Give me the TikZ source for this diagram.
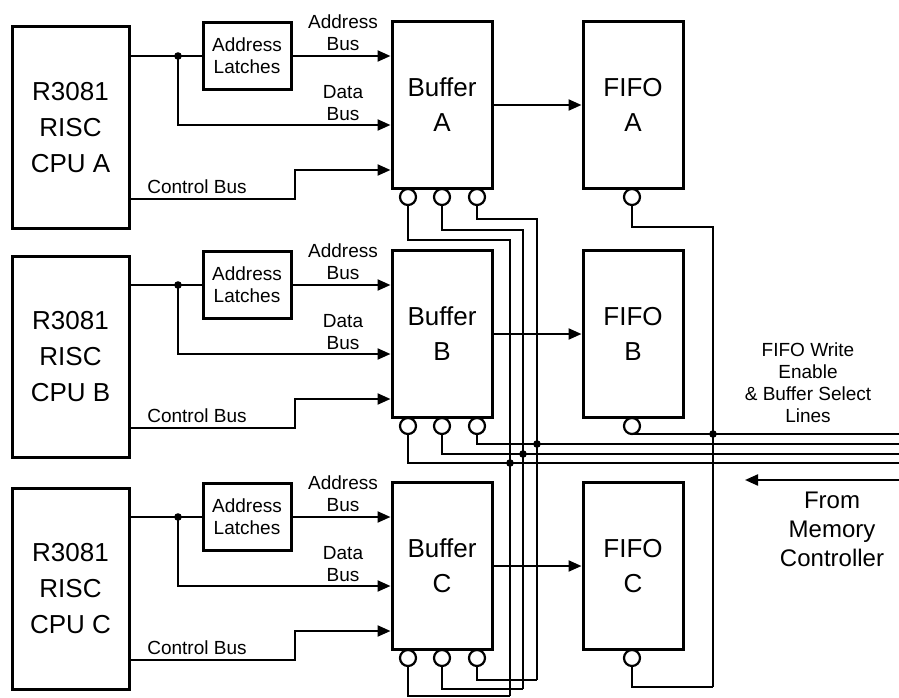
\documentclass[tikz,border=0pt]{standalone}
\usepackage{fontspec}
\setmainfont{Liberation Sans}
\usetikzlibrary{arrows.meta, positioning}
\tikzset{
  unit/.style={rectangle, draw, line width=3pt, align=center, inner sep=0pt},
  cpubox/.style={unit, minimum width=117pt, minimum height=201pt, font=\fontsize{26}{36}\selectfont},
  bufbox/.style={unit, minimum width=100pt, minimum height=167pt, font=\fontsize{26}{35}\selectfont},
  latchbox/.style={unit, minimum width=88pt, minimum height=67pt, font=\fontsize{19}{22}\selectfont},
  pinnode/.style={circle, draw, line width=2.2pt, minimum size=16pt, inner sep=0pt, fill=white},
  wire/.style={line width=2.2pt},
  arrow/.style={wire, -{Triangle[length=13pt, width=11pt]}},
  buslabel/.style={font=\fontsize{19}{22}\selectfont, align=center, inner sep=0pt},
}

\begin{document}
\begin{tikzpicture}[x=1pt, y=-1pt]
  \useasboundingbox (0,0) rectangle (899,698);
  \foreach \row/\dy in {A/0, B/229, C/461} {
    \node[cpubox] (cpu\row) at (70.5,127.5+\dy) {R3081\\RISC\\CPU \row};
    \node[latchbox] (lat\row) at (247,56+\dy) {Address\\Latches};
    \node[bufbox] (buf\row) at (442,105+\dy) {Buffer\\\row};
    \node[bufbox, right=88pt of buf\row] (fifo\row) {FIFO\\\row};
    \node[pinnode] (pin\row1) at (408,197+\dy) {};
    \node[pinnode] (pin\row2) at (442,197+\dy) {};
    \node[pinnode] (pin\row3) at (477,197+\dy) {};
    \node[pinnode] (pinf\row) at (632,197+\dy) {};
    \node[buslabel] (alb\row) at (343,33+\dy) {Address\\Bus};
    \node[buslabel] (dlb\row) at (343,103+\dy) {Data\\Bus};
    \node[buslabel] (clb\row) at (197,187+\dy) {Control Bus};
    \coordinate (tap\row) at (178,56+\dy);
    \coordinate (dat\row) at (300,125+\dy);
    \coordinate (ctl\row) at (295,199+\dy);
    \coordinate (ctr\row) at (295,170+\dy);
    \draw[wire] (cpu\row.east |- tap\row) -- (tap\row) -- (lat\row.west);
    \fill (tap\row) circle (3.8pt);
    \draw[arrow] (lat\row.east) -- (buf\row.west |- lat\row.east);
    \draw[arrow] (tap\row) |- (buf\row.west |- dat\row);
    \draw[arrow] (cpu\row.east |- ctl\row) -- (ctl\row) |- (buf\row.west |- ctr\row);
    \draw[arrow] (buf\row) -- (fifo\row);
  }
  \coordinate (s1top) at (510,240);
  \coordinate (s2top) at (523,230);
  \coordinate (s3top) at (537,219);
  \coordinate (s1bot) at (510,696);
  \coordinate (s2bot) at (523,689);
  \coordinate (s3bot) at (537,680);
  \coordinate (s1end) at (899,463);
  \coordinate (s2end) at (899,454);
  \coordinate (s3end) at (899,444);
  \coordinate (fwtop) at (713,227);
  \coordinate (fwbot) at (713,687);
  \coordinate (fwend) at (899,434);
  \draw[wire] (pinA1.south) |- (s1top) -- (s1bot);
  \draw[wire] (pinA2.south) |- (s2top) -- (s2bot);
  \draw[wire] (pinA3.south) |- (s3top) -- (s3bot);
  \draw[wire] (pinB1.south) |- (s1end);
  \draw[wire] (pinB2.south) |- (s2end);
  \draw[wire] (pinB3.south) |- (s3end);
  \draw[wire] (pinC1.south) |- (s1bot);
  \draw[wire] (pinC2.south) |- (s2bot);
  \draw[wire] (pinC3.south) |- (s3bot);
  \draw[wire] (pinfA.south) |- (fwtop) -- (fwbot);
  \draw[wire] (pinfB.south) |- (fwend);
  \draw[wire] (pinfC.south) |- (fwbot);
  \fill (s1top |- s1end) circle (3.8pt);
  \fill (s2top |- s2end) circle (3.8pt);
  \fill (s3top |- s3end) circle (3.8pt);
  \fill (fwtop |- fwend) circle (3.8pt);
  \node[buslabel] (selLines) at (808,383) {FIFO Write\\Enable\\\& Buffer Select\\Lines};
  \node[buslabel, font=\fontsize{24}{29}\selectfont] (memCtrl) at (832,529) {From\\Memory\\Controller};
  \coordinate (mcin) at (899,480);
  \coordinate (mcout) at (745,480);
  \draw[arrow] (mcin) -- (mcout);
\end{tikzpicture}
\end{document}
